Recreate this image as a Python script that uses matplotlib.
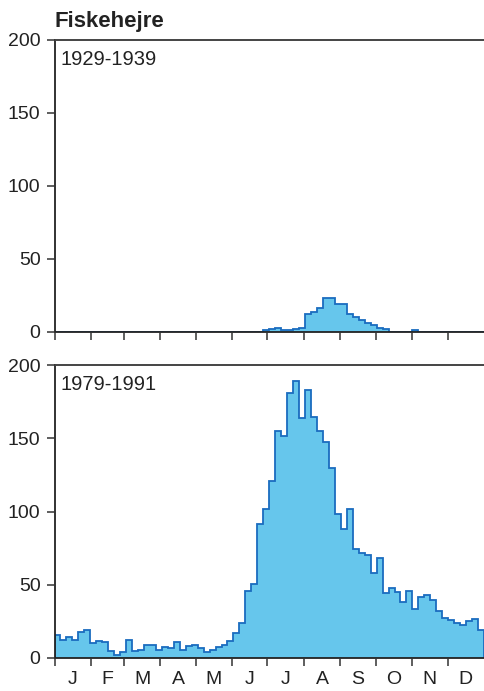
import matplotlib
matplotlib.use('Agg')
import matplotlib.pyplot as plt
import numpy as np

plt.rcParams['font.family'] = ['Liberation Sans', 'DejaVu Sans']

# 72 periods (about 5 days each) through the year
months = ['J', 'F', 'M', 'A', 'M', 'J', 'J', 'A', 'S', 'O', 'N', 'D']
month_days = [31, 28, 31, 30, 31, 30, 31, 31, 30, 31, 30, 31]

counts_1929 = [0] * 35 + [
    0.7, 1.6, 2.7, 0.7, 0.7, 1.6, 2.3, 11.9, 13.7, 15.8,
    22.7, 22.7, 18.8, 18.8, 11.9, 9.8, 7.8, 5.9, 4.8, 2.7,
    1.4, 0, 0, 0, 0, 0.7, 0, 0, 0, 0,
    0, 0, 0, 0, 0, 0, 0]

counts_1979 = [
    15.5, 12.3, 14.5, 12.0, 17.7, 18.9, 10.0, 11.8, 11.1, 4.8,
    2.3, 4.3, 12.0, 4.8, 5.5, 9.0, 9.0, 5.2, 7.3, 6.8,
    11.1, 5.7, 8.2, 8.6, 6.8, 3.9, 5.5, 7.5, 9.1, 11.4,
    16.8, 24.1, 45.5, 50.5, 91.4, 101.8, 120.5, 155.0, 151.8, 180.7,
    189.3, 164.1, 183.0, 164.5, 155.2, 147.5, 130.0, 98.0, 88.0, 101.4,
    74.1, 71.6, 70.5, 58.0, 68.6, 44.1, 47.5, 44.8, 38.0, 45.5,
    33.4, 41.6, 43.2, 39.3, 31.8, 27.3, 26.1, 24.1, 22.7, 25.5,
    26.4, 19.3]

panels = [('1929-1939', counts_1929), ('1979-1991', counts_1979)]

fill_col = '#66c6ec'
edge_col = '#1a6cbf'

W, H = 484, 691
fig = plt.figure(figsize=(W / 100, H / 100), dpi=100)
left = 54.5 / W
width = 1.0 - left
boxes = [(1 - 331.5 / H, (331.5 - 40) / H), (1 - 658 / H, (658 - 365) / H)]

n = len(counts_1979)
edges = np.arange(n + 1)
cum = np.cumsum([0] + month_days)
tick_pos = cum[:-1] * n / 365.0
label_pos = (cum[:-1] + np.array(month_days) / 2) * n / 365.0

for i, ((label, vals), (b, h)) in enumerate(zip(panels, boxes)):
    ax = fig.add_axes([left, b, width, h])
    vals = np.array(vals, dtype=float)
    ax.stairs(vals, edges, fill=True, color=fill_col, linewidth=0)
    ax.stairs(vals, edges, color=edge_col, linewidth=1.3)
    ax.set_xlim(0, n)
    ax.set_ylim(0, 200)
    ax.set_yticks([0, 50, 100, 150, 200])
    ax.set_xticks(tick_pos)
    ax.set_xticklabels([])
    ax.tick_params(axis='both', length=6, width=1.1, color='#333333',
                   labelsize=14, pad=4, labelcolor='#222222')
    ax.spines['right'].set_visible(False)
    ax.spines['top'].set_color('#444444')
    ax.spines['top'].set_linewidth(1.4)
    for s in ('left', 'bottom'):
        ax.spines[s].set_linewidth(1.3)
        ax.spines[s].set_color('#222222')
    ax.text(0.013, 0.965, label, transform=ax.transAxes, ha='left', va='top',
            fontsize=14.5, color='#222222')
    if i == 1:
        ax.set_xticks(label_pos, minor=True)
        ax.set_xticklabels(months, minor=True)
        ax.tick_params(axis='x', which='minor', length=0, labelsize=14,
                       pad=9, labelcolor='#222222')
    ax.set_axisbelow(False)

fig.text(left, 1 - 11 / H, 'Fiskehejre', fontsize=16, fontweight='bold',
         ha='left', va='top', color='#222222')

fig.savefig('out.png', dpi=100)
